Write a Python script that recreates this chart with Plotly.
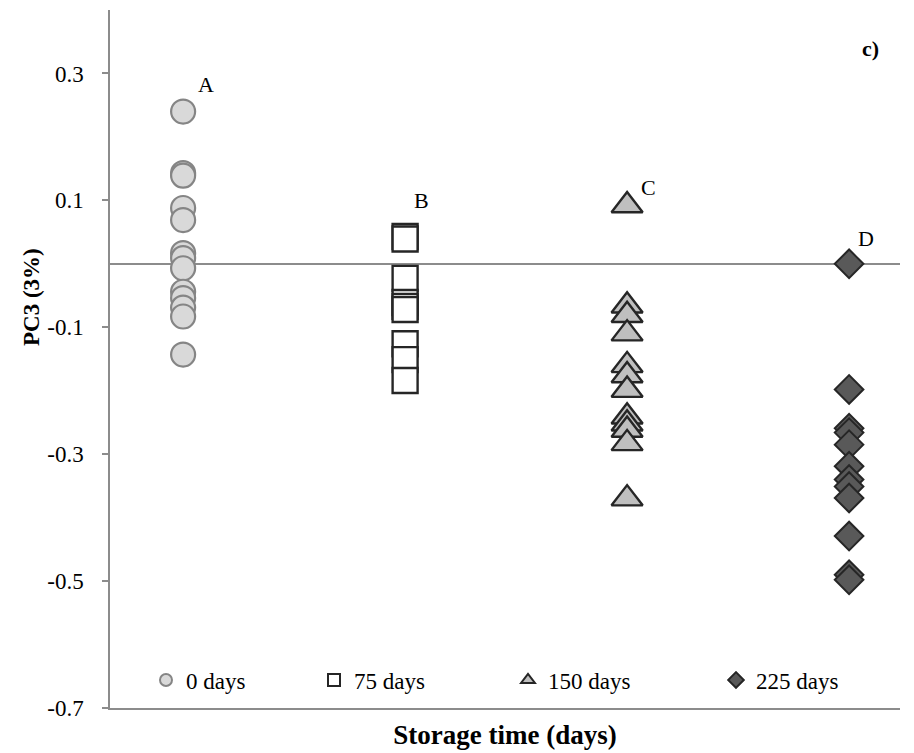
import plotly.graph_objects as go

# ---- data ----
storage_days = [0, 75, 150, 225]
series_names = ["0 days", "75 days", "150 days", "225 days"]
group_labels = ["A", "B", "C", "D"]

pc3_0d = [0.240, 0.143, 0.139, 0.088, 0.069, 0.017, 0.009, -0.007, -0.044, -0.054, -0.069, -0.083, -0.143]
pc3_75d = [0.043, 0.039, -0.023, -0.061, -0.067, -0.072, -0.126, -0.151, -0.184]
pc3_150d = [0.092, -0.066, -0.081, -0.110, -0.160, -0.176, -0.199, -0.241, -0.252, -0.262, -0.283, -0.370]
pc3_225d = [0.0, -0.198, -0.259, -0.266, -0.285, -0.319, -0.340, -0.351, -0.369, -0.429, -0.490, -0.498]

y_tickvals = [0.3, 0.1, -0.1, -0.3, -0.5, -0.7]
y_ticktext = ["0.3", "0.1", "-0.1", "-0.3", "-0.5", "-0.7"]

all_values = [pc3_0d, pc3_75d, pc3_150d, pc3_225d]

# ---- styles ----
FONT = "Liberation Serif, Times New Roman, serif"
styles = [
    dict(symbol="circle", size=24, color="#d9d9d9", line=dict(color="#858585", width=2.2)),
    dict(symbol="square", size=25, color="#ffffff", line=dict(color="#262626", width=2.4)),
    dict(symbol="triangle-up", size=27, color="#bfbfbf", line=dict(color="#262626", width=2.4)),
    dict(symbol="diamond", size=22, color="#595959", line=dict(color="#262626", width=2.0)),
]
legend_ids = ["legend", "legend2", "legend3", "legend4"]
legend_x_px = [146, 314, 508, 716]   # screen px of legend item start
label_shift = [(23, 27), (16, 36), (21, 18), (17, 25)]

W, H = 914, 753
# page body offset of 8px: plot area on screen spans x 110..900, y 10..708
L, T, R, B = 102, 2, 22, 53
PX0, PX1, PY0, PY1 = 110, 900, 10, 708
pw = PX1 - PX0
ph = PY1 - PY0

fig = go.Figure()
for i, (xd, vals) in enumerate(zip(storage_days, all_values)):
    fig.add_trace(go.Scatter(
        x=[xd] * len(vals), y=vals, mode="markers", name=series_names[i],
        marker=styles[i], legend=legend_ids[i], cliponaxis=False,
    ))

annotations = []
for i, lab in enumerate(group_labels):
    annotations.append(dict(
        x=storage_days[i], y=max(all_values[i]), xref="x", yref="y", text=lab,
        showarrow=False, xshift=label_shift[i][0], yshift=label_shift[i][1],
        xanchor="center", yanchor="middle",
        font=dict(family=FONT, size=22, color="#000000"),
    ))
annotations.append(dict(
    x=(870 - PX0) / pw, y=(PY1 - 48) / ph, xref="paper", yref="paper", text="<b>c)</b>",
    xanchor="center", yanchor="middle",
    showarrow=False, font=dict(family=FONT, size=22, color="#000000"),
))
# y-axis title (positioned like the original, above the axis centre)
annotations.append(dict(
    x=(32 - PX0) / pw, y=(PY1 - 297) / ph, xref="paper", yref="paper", text="<b>PC3 (3%)</b>",
    textangle=-90, xanchor="center", yanchor="middle",
    showarrow=False, font=dict(family=FONT, size=23, color="#000000"),
))

layout_kwargs = {}
for i, lid in enumerate(legend_ids):
    layout_kwargs[lid] = dict(
        x=(legend_x_px[i] - PX0) / pw, y=(PY1 - 680) / ph, xanchor="left", yanchor="middle",
        orientation="h", bgcolor="rgba(0,0,0,0)", itemsizing="constant",
        font=dict(family=FONT, size=23, color="#000000"),
    )

fig.update_layout(
    width=W, height=H,
    margin=dict(l=L, r=R, t=T, b=B),
    paper_bgcolor="white", plot_bgcolor="white",
    showlegend=True,
    annotations=annotations,
    font=dict(family=FONT, size=22, color="#000000"),
    **layout_kwargs,
)
fig.update_xaxes(
    range=[-24.7, 242.2], showticklabels=False, ticks="", showgrid=False, zeroline=False,
    showline=True, linecolor="#8c8c8c", linewidth=1.5,
    title=dict(text="<b>Storage time (days)</b>", font=dict(family=FONT, size=27), standoff=16),
)
fig.update_yaxes(
    range=[-0.7, 0.4], tickvals=y_tickvals, ticktext=y_ticktext,
    ticks="outside", ticklen=6, tickcolor="#8c8c8c", tickwidth=1.5,
    showgrid=False, showline=True, linecolor="#8c8c8c", linewidth=1.5,
    zeroline=True, zerolinecolor="#8c8c8c", zerolinewidth=1.5,
    tickfont=dict(family=FONT, size=23), ticklabelstandoff=14,
)

fig.write_html("out.html")
